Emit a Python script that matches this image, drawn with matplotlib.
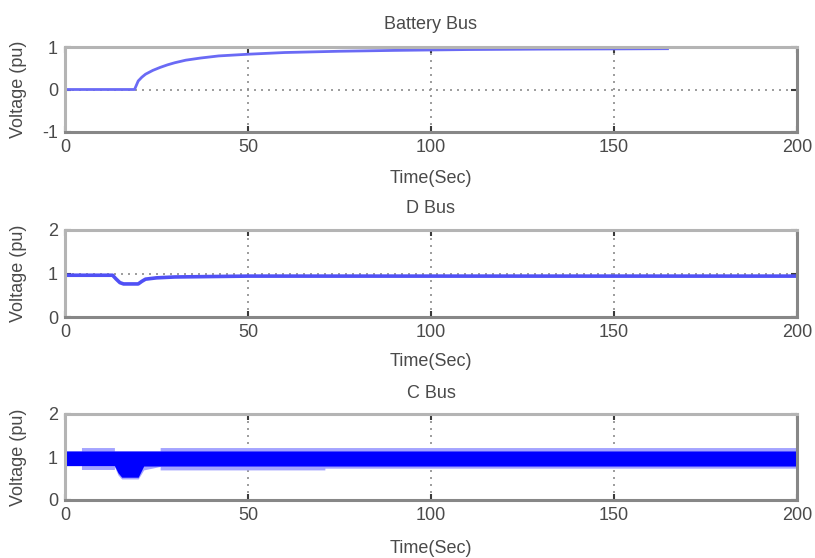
import matplotlib
matplotlib.use("Agg")
import matplotlib.pyplot as plt

plt.rcParams['font.family'] = ['Liberation Sans', 'DejaVu Sans']
plt.rcParams['axes.unicode_minus'] = False

# Battery bus voltage (pu) versus time (s)
battery_t = [0, 19, 20, 21, 22, 24, 26, 28, 30, 33, 37, 42, 50, 60, 75, 90, 110, 130, 150, 165]
battery_v = [0, 0, 0.2, 0.29, 0.36, 0.45, 0.52, 0.58, 0.63, 0.69, 0.74, 0.79, 0.83, 0.87,
             0.9, 0.92, 0.94, 0.95, 0.955, 0.96]

# D bus voltage (pu)
dbus_t = [0, 13, 14, 15, 16, 20, 21, 22, 25, 30, 50, 75, 100, 200]
dbus_v = [0.96, 0.96, 0.87, 0.79, 0.76, 0.76, 0.82, 0.87, 0.9, 0.92, 0.94, 0.94, 0.94, 0.94]

# C bus voltage (pu): oscillation envelope, outer (faint) and inner (solid)
cbus_outer_t = [0, 4.5, 4.5, 13.5, 13.5, 14.5, 15.5, 20, 21.5, 26, 26, 71, 71, 200]
cbus_outer_hi = [1.14, 1.14, 1.22, 1.22, 1.14, 1.14, 1.14, 1.14, 1.14, 1.14, 1.22, 1.22, 1.22, 1.22]
cbus_outer_lo = [0.8, 0.8, 0.71, 0.71, 0.78, 0.58, 0.49, 0.49, 0.7, 0.78, 0.7, 0.7, 0.74, 0.74]
cbus_inner_t = [0, 13.5, 14.5, 15.5, 20, 21.5, 200]
cbus_inner_hi = [1.14, 1.14, 1.14, 1.14, 1.14, 1.14, 1.14]
cbus_inner_lo = [0.8, 0.8, 0.63, 0.53, 0.53, 0.79, 0.79]

titles = ["Battery Bus", "D Bus", "C Bus"]
ylims = [(-1, 1), (0, 2), (0, 2)]
yticks = [[-1, 0, 1], [0, 1, 2], [0, 1, 2]]
xticks = [0, 50, 100, 150, 200]

fig = plt.figure(figsize=(8.15, 5.58), dpi=100)
W, H = 815, 558
# (top, bottom) pixel rows of each axes box
boxes = [(47, 132), (230, 317), (414, 500)]
left_px, right_px = 65, 797
title_pads = [13, 12, 11.5]
xlabel_offsets = [38, 36, 40]

text_color = '#4a4a4a'
axes = []
for i, (top, bot) in enumerate(boxes):
    ax = fig.add_axes([left_px / W, 1 - bot / H, (right_px - left_px) / W, (bot - top) / H])
    ax.set_xlim(0, 200)
    ax.set_ylim(*ylims[i])
    ax.set_xticks(xticks)
    ax.set_yticks(yticks[i])
    ax.tick_params(direction='in', length=4, width=1.5, color='#3a3a3a',
                   top=True, right=True, labelsize=13, labelcolor=text_color, pad=5)
    ax.grid(True, linestyle=(0, (1.2, 3)), color='#8c8c8c', linewidth=1.2)
    ax.set_axisbelow(True)
    for side in ('top', 'left'):
        ax.spines[side].set_color('#b4b4b4')
        ax.spines[side].set_linewidth(2.2)
    for side in ('bottom', 'right'):
        ax.spines[side].set_color('#878787')
        ax.spines[side].set_linewidth(2.2)
    ax.set_title(titles[i], fontsize=13, color=text_color, pad=title_pads[i])
    ax.set_xlabel("Time(Sec)", fontsize=13, color=text_color)
    ax.set_ylabel("Voltage (pu)", fontsize=13, color=text_color)
    ax.xaxis.set_label_coords(0.5, -xlabel_offsets[i] / (bot - top))
    ax.yaxis.set_label_coords((27 - left_px) / (right_px - left_px), 0.5)
    axes.append(ax)

axes[0].plot(battery_t, battery_v, color='#6a6af5', linewidth=2.0, solid_capstyle='butt')
axes[1].plot(dbus_t, dbus_v, color='#5050f5', linewidth=2.6, solid_capstyle='butt')
axes[2].fill_between(cbus_outer_t, cbus_outer_lo, cbus_outer_hi, color='#a4a4ff', linewidth=0)
axes[2].fill_between(cbus_inner_t, cbus_inner_lo, cbus_inner_hi, color='#0000ff', linewidth=0)

fig.savefig("out.png", dpi=100)
